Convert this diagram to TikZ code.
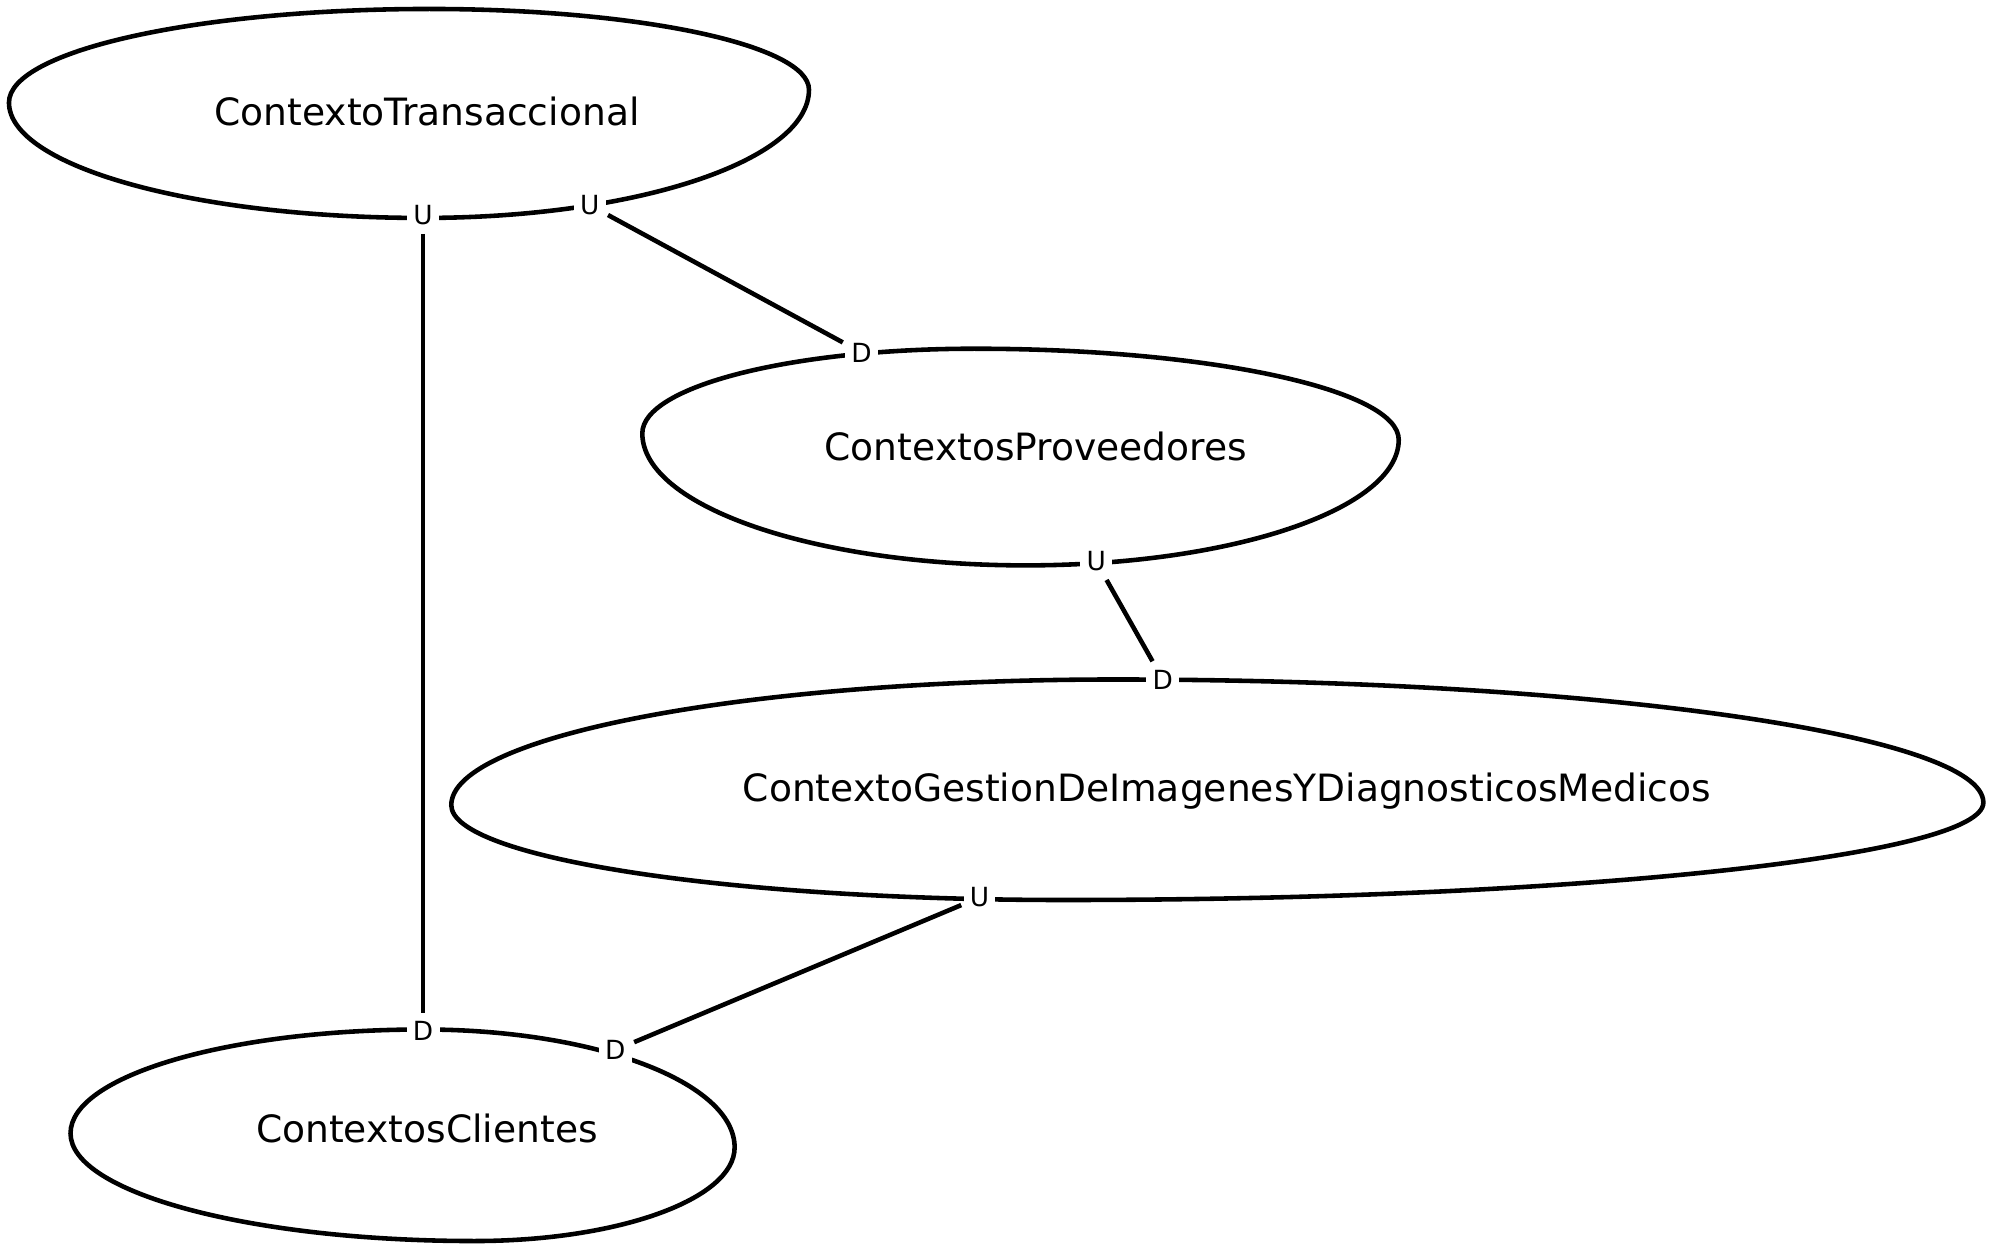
\documentclass[tikz,border=0pt]{standalone}
\usepackage{fontspec}
\setmainfont{DejaVu Sans}
\begin{document}
\begin{tikzpicture}[x=0.01282cm,y=-0.01282cm,line width=1.3pt,
	ctx/.style={font=\fontsize{10.7}{13}\selectfont},
	rel/.style={fill=white,inner sep=1.8pt,font=\fontsize{7.5}{9}\selectfont}]
\useasboundingbox (0,0) rectangle (1560,970);
% context outlines: left, top, right, bottom points
\foreach \xl/\yl/\xt/\yt/\xr/\yr/\xb/\yb in
	{7/80/335/7/631/70/330/170, 501/338/760/272/1091/343/800/441,
	 352/628/870/530/1547/626/830/702, 55/884/330/803/573/895/370/968} {
	\draw (\xl,\yl) .. controls (\xl,{\yl-0.5523*(\yl-\yt)}) and ({\xt-0.5523*(\xt-\xl)},\yt) .. (\xt,\yt)
		.. controls ({\xt+0.5523*(\xr-\xt)},\yt) and (\xr,{\yr-0.5523*(\yr-\yt)}) .. (\xr,\yr)
		.. controls (\xr,{\yr+0.5523*(\yb-\yr)}) and ({\xb+0.5523*(\xr-\xb)},\yb) .. (\xb,\yb)
		.. controls ({\xb-0.5523*(\xb-\xl)},\yb) and (\xl,{\yl+0.5523*(\yb-\yl)}) .. (\xl,\yl) -- cycle;
}
\node[ctx] (ct) at (333,87) {ContextoTransaccional};
\node[ctx] (cp) at (808,348) {ContextosProveedores};
\node[ctx] (cg) at (957,617) {ContextoGestionDeImagenesYDiagnosticosMedicos};
\node[ctx] (cc) at (333,880) {ContextosClientes};

% upstream / downstream ends
\node[rel] (ctu1) at (330,168) {U};
\node[rel] (ctu2) at (460,160) {U};
\node[rel] (cpd) at (672,275) {D};
\node[rel] (cpu) at (855,438) {U};
\node[rel] (cgd) at (907,530) {D};
\node[rel] (cgu) at (764,700) {U};
\node[rel] (ccd1) at (330,804) {D};
\node[rel] (ccd2) at (480,819) {D};

\draw (ctu1) -- (ccd1);
\draw (ctu2) -- (cpd);
\draw (cpu) -- (cgd);
\draw (cgu) -- (ccd2);
\end{tikzpicture}
\end{document}
